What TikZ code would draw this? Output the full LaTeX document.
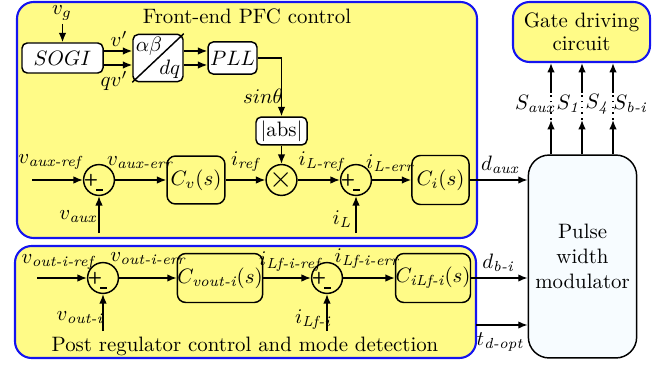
\documentclass[tikz,border=0pt]{standalone}
\usepackage{amsmath}
\usetikzlibrary{arrows.meta,calc}
\definecolor{panel}{RGB}{255,251,135}
\definecolor{pwmfill}{RGB}{247,252,255}
\definecolor{frame}{RGB}{20,20,240}
\begin{document}
\begin{tikzpicture}[x=0.48pt,y=-0.48pt,
  arr/.style={-{Latex[length=4.5pt,width=3.6pt]},line width=0.7pt},
  blk/.style={draw,line width=0.7pt,rounded corners=2.5pt,fill=white,inner sep=1pt},
  ctl/.style={blk,fill=panel,rounded corners=4pt},
  sumj/.style={draw,circle,line width=0.7pt,fill=panel,minimum size=14.8pt,inner sep=0pt},
  panelbox/.style={draw=frame,line width=1pt,fill=panel,rounded corners=8pt},
  lbl/.style={inner sep=0.5pt},
  sgn/.style={font=\sffamily\bfseries\footnotesize,inner sep=0pt},
  minus/.style={line width=0.9pt},
]
\useasboundingbox (0,0) rectangle (665,366);

% control panels
\draw[panelbox] (17,2) rectangle (477,238);
\draw[panelbox] (15,246) rectangle (476,358);
\node[lbl] (ttop) at (247,16) {Front-end PFC control};
\node[lbl] (tbot) at (245,346) {Post regulator control and mode detection};

% gate driver and modulator
\node[draw=frame,line width=1pt,fill=panel,rounded corners=8pt,
      minimum width=65.8pt,minimum height=28.8pt,align=center,inner sep=1pt]
      (gate) at (581.5,32) {Gate driving\\[-1pt]circuit};
\node[draw,line width=0.7pt,fill=pwmfill,rounded corners=10pt,
      minimum width=50.4pt,minimum height=97.4pt,align=center]
      (pwm) at (582.5,256.5) {Pulse\\width\\modulator};

% ---------- front-end PFC control ----------
\node[blk,minimum width=38.9pt,minimum height=14.4pt] (sogi) at (62.5,58) {$SOGI$};
\node[blk,minimum width=24pt,minimum height=22.6pt] (abdq) at (158,58) {};
\draw[line width=0.7pt] (abdq.south west) -- (abdq.north east);
\node[lbl,anchor=north west,inner sep=1.5pt] (ab) at (abdq.north west) {$\alpha\beta$};
\node[lbl,anchor=south east,inner sep=1.5pt] (dq) at (abdq.south east) {$dq$};
\node[blk,minimum width=23.5pt,minimum height=15.4pt] (pll) at (232.5,58) {$PLL$};
\node[blk,minimum width=24.5pt,minimum height=13.4pt] (absblk) at (281.5,131) {$|$abs$|$};

\coordinate (vgin) at (62.5,24);
\node[lbl] (vg) at (62,13) {$v_g$};
\draw[arr] (vgin) -- (sogi.north);

\draw[arr] ($(sogi.east)+(0,-7)$) -- ($(abdq.west)+(0,-7)$);
\draw[arr] ($(sogi.east)+(0,7)$) -- ($(abdq.west)+(0,7)$);
\node[lbl] (vp) at (119,39) {$v'$};
\node[lbl] (qvp) at (114,81) {$qv'$};
\draw[arr] ($(abdq.east)+(0,-7)$) -- ($(pll.west)+(0,-7)$);
\draw[arr] ($(abdq.east)+(0,7)$) -- ($(pll.west)+(0,7)$);

\draw[arr] (pll.east) -| (absblk.north);
\node[lbl] (lsintheta) at (263,96) {$sin\theta$};

\node[sumj] (s1) at (99,180) {};
\node[sgn] (s1p) at ($(s1)+(-8,0)$) {+};
\draw[minus] ($(s1)+(-3,10)$) -- ($(s1)+(4,10)$);
\node[ctl,minimum width=27.8pt,minimum height=23pt] (cv) at (196,180) {$C_v(s)$};
\node[sumj] (mult) at (281.5,180) {\Large$\times$};
\node[sumj] (s2) at (356,180) {};
\node[sgn] (s2p) at ($(s2)+(-8,0)$) {+};
\draw[minus] ($(s2)+(-3,10)$) -- ($(s2)+(4,10)$);
\node[ctl,minimum width=27.4pt,minimum height=23.5pt] (ci) at (440.5,180) {$C_i(s)$};

\coordinate (vauxref) at (32,180);
\coordinate (vauxin) at (99,233);
\coordinate (ilin) at (356,233);
\draw[arr] (vauxref) -- (s1.west);
\draw[arr] (vauxin) -- (s1.south);
\draw[arr] (s1.east) -- (cv.west);
\draw[arr] (cv.east) -- (mult.west);
\draw[arr] (absblk.south) -- (mult.north);
\draw[arr] (mult.east) -- (s2.west);
\draw[arr] (ilin) -- (s2.south);
\draw[arr] (s2.east) -- (ci.west);
\draw[arr] (ci.east) -- (ci.east -| pwm.west);

\node[lbl] (lvauxref) at (50,162) {$v_{\textit{aux-ref}}$};
\node[lbl] (lvaux) at (78,217) {$v_{\textit{aux}}$};
\node[lbl] (lvauxerr) at (140,163) {$v_{\textit{aux-err}}$};
\node[lbl] (liref) at (245,162) {$i_{\textit{ref}}$};
\node[lbl] (lilref) at (321,162) {$i_{\textit{L-ref}}$};
\node[lbl] (lil) at (342,219) {$i_{\textit{L}}$};
\node[lbl] (lilerr) at (390,163) {$i_{\textit{L-err}}$};
\node[lbl] (ldaux) at (500,165) {$d_{\textit{aux}}$};

% ---------- post regulator control ----------
\node[sumj] (s3) at (103,278) {};
\node[sgn] (s3p) at ($(s3)+(-8,0)$) {+};
\draw[minus] ($(s3)+(-3,10)$) -- ($(s3)+(4,10)$);
\node[ctl,inner xsep=0pt,minimum width=38.4pt,minimum height=23.5pt] (cvo) at (220,278) {$C_{\textit{vout-i}}(s)$};
\node[sumj] (s4) at (327,278) {};
\node[sgn] (s4p) at ($(s4)+(-8,0)$) {+};
\draw[minus] ($(s4)+(-3,10)$) -- ($(s4)+(4,10)$);
\node[ctl,inner xsep=0pt,minimum width=35.5pt,minimum height=23.5pt] (cilf) at (433,278) {$C_{\textit{iLf-i}}(s)$};

\coordinate (voref) at (37,278);
\coordinate (voin) at (103,331);
\coordinate (ilfin) at (327,331);
\coordinate (tdin) at (476,325);
\draw[arr] (voref) -- (s3.west);
\draw[arr] (voin) -- (s3.south);
\draw[arr] (s3.east) -- (cvo.west);
\draw[arr] (cvo.east) -- (s4.west);
\draw[arr] (ilfin) -- (s4.south);
\draw[arr] (s4.east) -- (cilf.west);
\draw[arr] (cilf.east) -- (cilf.east -| pwm.west);
\draw[arr] (tdin) -- (tdin -| pwm.west);

\node[lbl] (lvoref) at (58,262) {$v_{\textit{out-i-ref}}$};
\node[lbl] (lvo) at (80,318) {$v_{\textit{out-i}}$};
\node[lbl] (lvoerr) at (148,259) {$v_{\textit{out-i-err}}$};
\node[lbl] (lilfref) at (290,262) {$i_{\textit{Lf-i-ref}}$};
\node[lbl] (lilf) at (313,320) {$i_{\textit{Lf-i}}$};
\node[lbl] (lilferr) at (367,259) {$i_{\textit{Lf-i-err}}$};
\node[lbl] (ldbi) at (498,263) {$d_{\textit{b-i}}$};
\node[lbl] (ltd) at (500,342) {$t_{\textit{d-opt}}$};

% ---------- gate signals ----------
\foreach \gx/\gn in {551/ga,582/gb,613/gc}{
  \coordinate (\gn lo) at (\gx,120);
  \coordinate (\gn hi) at (\gx,93);
  \draw[arr] (pwm.north -| \gn lo) -- (\gn lo);
  \draw[line width=0.8pt,dotted] (\gn lo) -- (\gn hi);
  \draw[arr] (\gn hi) -- (gate.south -| \gn hi);
}
\node[lbl] (lsaux) at (535,104) {$S_{\textit{aux}}$};
\node[lbl] (ls1) at (568,104) {$S_{\textit{1}}$};
\node[lbl] (ls4) at (597,104) {$S_{\textit{4}}$};
\node[lbl] (lsbi) at (630,104) {$S_{\textit{b-i}}$};
\end{tikzpicture}
\end{document}
